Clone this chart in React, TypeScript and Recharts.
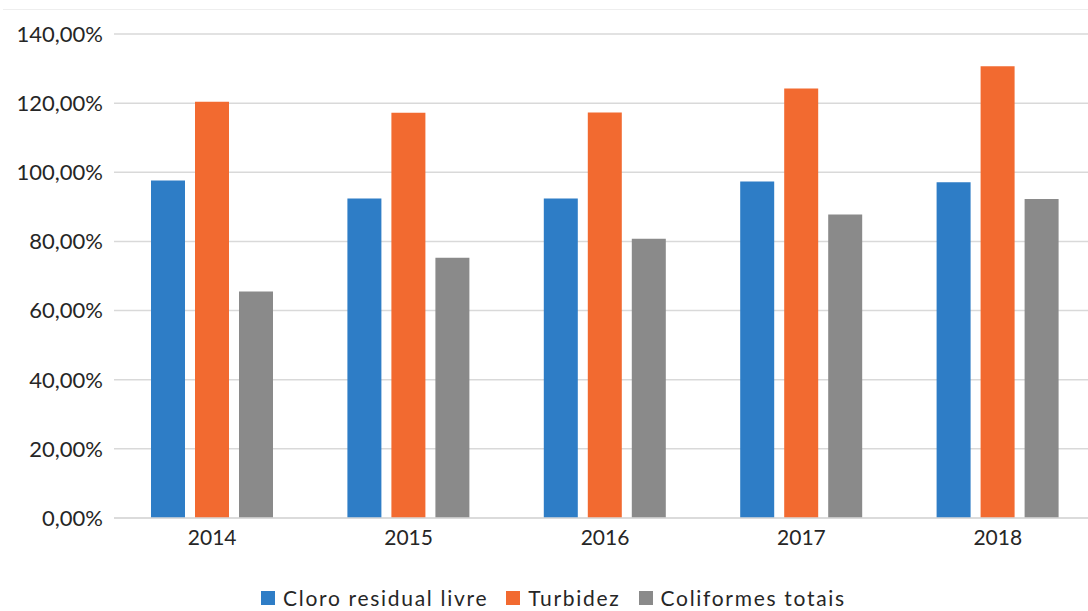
import React from 'react'
import { BarChart, Bar, XAxis, YAxis, CartesianGrid } from 'recharts'

const years = ['2014', '2015', '2016', '2017', '2018']
const cloro = [0.976, 0.924, 0.924, 0.973, 0.971]
const turbidez = [1.204, 1.172, 1.173, 1.242, 1.307]
const coliformes = [0.655, 0.753, 0.808, 0.878, 0.923]
const yTicks = [0, 0.2, 0.4, 0.6, 0.8, 1.0, 1.2, 1.4]

const series = [
  { key: 'cloro', name: 'Cloro residual livre', color: '#2E7DC6' },
  { key: 'turbidez', name: 'Turbidez', color: '#F26A30' },
  { key: 'coliformes', name: 'Coliformes totais', color: '#8A8A8A' },
]

const data = years.map((year, i) => ({
  year,
  cloro: cloro[i],
  turbidez: turbidez[i],
  coliformes: coliformes[i],
}))

const FONT = 'Lato, "Open Sans", sans-serif'

const pct = (v: number) =>
  (v * 100).toLocaleString('pt-BR', { minimumFractionDigits: 2, maximumFractionDigits: 2 }) + '%'

export default function App() {
  return (
    <div
      style={{
        position: 'fixed', left: 0, top: 0, width: 1088, height: 611,
        overflow: 'hidden', background: '#fff', fontFamily: FONT,
      }}
    >
      <div style={{ position: 'absolute', left: 3, right: 0, top: 9, borderTop: '1px solid #eeeeee' }} />
      <BarChart
        width={1100}
        height={611}
        data={data}
        margin={{ top: 34, right: 4, left: 0, bottom: 63 }}
        barSize={34}
        barGap={10}
      >
        <CartesianGrid vertical={false} stroke="#d9d9d9" strokeWidth={1.5} />
        <XAxis
          dataKey="year"
          axisLine={{ stroke: '#d9d9d9', strokeWidth: 1.5 }}
          tickLine={false}
          tickSize={0}
          tickMargin={12}
          height={30}
          tick={{ fill: '#262626', fontSize: 21, fontFamily: FONT }}
        />
        <YAxis
          domain={[0, 1.4]}
          ticks={yTicks}
          tickFormatter={pct}
          axisLine={false}
          tickLine={false}
          tickSize={0}
          tickMargin={11}
          width={114}
          tick={{ fill: '#262626', fontSize: 22, fontFamily: FONT }}
        />
        {series.map((s) => (
          <Bar key={s.key} dataKey={s.key} name={s.name} fill={s.color} isAnimationActive={false} />
        ))}
      </BarChart>
      <div
        style={{
          position: 'absolute', left: 261, top: 585, display: 'flex', alignItems: 'center',
          fontSize: 21, color: '#262626', whiteSpace: 'nowrap', letterSpacing: 1.7,
        }}
      >
        {series.map((s) => (
          <div key={s.key} style={{ display: 'flex', alignItems: 'center', marginRight: 18 }}>
            <span style={{ width: 14, height: 14, background: s.color, marginRight: 8, display: 'inline-block' }} />
            <span>{s.name}</span>
          </div>
        ))}
      </div>
    </div>
  )
}
